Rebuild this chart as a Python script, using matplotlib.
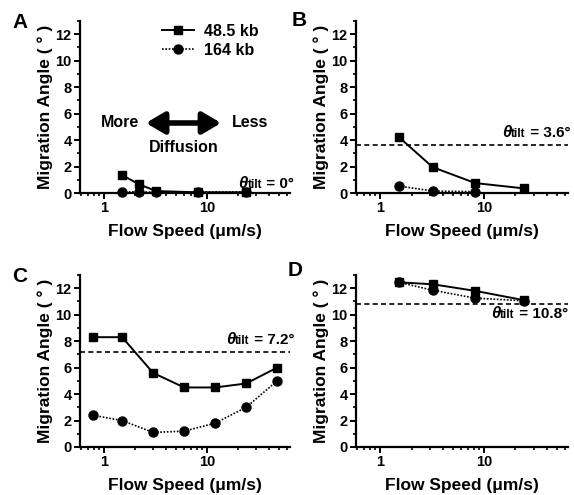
import numpy as np
import matplotlib
matplotlib.use("Agg")
import matplotlib.pyplot as plt
from matplotlib.ticker import LogLocator, NullFormatter, FixedLocator, MultipleLocator
from matplotlib.offsetbox import TextArea, HPacker, AnnotationBbox

plt.rcParams['font.family'] = ['Liberation Sans', 'DejaVu Sans']
plt.rcParams['font.weight'] = 'bold'

# -------------------- data --------------------
# panel A (theta_tilt = 0)
a_x_485 = [1.5, 2.2, 3.2, 8.2, 24]
a_y_485 = [1.35, 0.65, 0.15, 0.05, 0.05]
a_x_164 = [1.5, 2.2, 3.2, 8.2, 24]
a_y_164 = [0.08, 0.1, 0.05, 0.08, 0.08]

# panel B (theta_tilt = 3.6)
b_x_485 = [1.5, 3.2, 8.2, 24]
b_y_485 = [4.25, 1.95, 0.75, 0.35]
b_x_164 = [1.5, 3.2, 8.2]
b_y_164 = [0.53, 0.15, 0.1]

# panel C (theta_tilt = 7.2)
c_x_485 = [0.78, 1.5, 3.0, 6.0, 12, 24, 48]
c_y_485 = [8.3, 8.3, 5.6, 4.5, 4.5, 4.8, 6.0]
c_x_164 = [0.78, 1.5, 3.0, 6.0, 12, 24, 48]
c_y_164 = [2.4, 2.0, 1.1, 1.2, 1.8, 3.0, 5.0]

# panel D (theta_tilt = 10.8)
d_x_485 = [1.5, 3.2, 8.2, 24]
d_y_485 = [12.45, 12.3, 11.8, 11.1]
d_x_164 = [1.5, 3.2, 8.2, 24]
d_y_164 = [12.45, 11.85, 11.25, 11.05]

tilts = [0, 3.6, 7.2, 10.8]
panel_letters = ['A', 'B', 'C', 'D']

# -------------------- figure --------------------
W, H = 574, 495
fig = plt.figure(figsize=(W / 100, H / 100), dpi=100)


def px_axes(left, top, right, bottom):
    return fig.add_axes([left / W, 1 - bottom / H, (right - left) / W, (bottom - top) / H])


axA = px_axes(80, 21, 290, 193)
axB = px_axes(356, 21, 568, 193)
axC = px_axes(80, 275, 290, 447)
axD = px_axes(356, 275, 568, 447)
axes = [axA, axB, axC, axD]

data = [
    (a_x_485, a_y_485, a_x_164, a_y_164),
    (b_x_485, b_y_485, b_x_164, b_y_164),
    (c_x_485, c_y_485, c_x_164, c_y_164),
    (d_x_485, d_y_485, d_x_164, d_y_164),
]

for ax, (x1, y1, x2, y2) in zip(axes, data):
    ax.plot(x2, y2, ls=(0, (1, 1)), lw=1.2, color='k', marker='o', ms=6.5, label='164 kb', clip_on=False, zorder=3)
    ax.plot(x1, y1, ls='-', lw=1.4, color='k', marker='s', ms=6, label='48.5 kb', clip_on=False, zorder=4)
    ax.set_xscale('log')
    ax.set_xlim(0.585, 64)
    ax.set_ylim(0, 13)
    ax.spines['top'].set_visible(False)
    ax.spines['right'].set_visible(False)
    ax.spines['left'].set_linewidth(1.6)
    ax.spines['bottom'].set_linewidth(1.6)
    ax.xaxis.set_major_locator(FixedLocator([1, 10]))
    ax.xaxis.set_major_formatter(matplotlib.ticker.FixedFormatter(['1', '10']))
    ax.xaxis.set_minor_locator(LogLocator(base=10, subs=np.arange(2, 10)))
    ax.xaxis.set_minor_formatter(NullFormatter())
    ax.yaxis.set_major_locator(MultipleLocator(2))
    ax.yaxis.set_minor_locator(MultipleLocator(1))
    ax.tick_params(which='major', direction='out', length=4, width=1.4, labelsize=10.5, pad=2)
    ax.tick_params(which='minor', direction='out', length=2.5, width=1.2)
    ax.set_xlabel('Flow Speed (\u03bcm/s)', fontsize=12.5, fontweight='bold', labelpad=6)
    ax.set_ylabel('Migration Angle ( \u00b0 )', fontsize=12.5, fontweight='bold', labelpad=2)

# dashed tilt lines
for ax, t in zip(axes[1:], tilts[1:]):
    ax.axhline(t, color='k', ls=(0, (3, 2)), lw=1.2, zorder=2)


# theta_tilt labels
def tilt_label(ax, text, xfrac, y):
    parts = [
        TextArea('\u03b8', textprops=dict(fontsize=12, fontstyle='italic', fontweight='bold')),
        TextArea('tilt', textprops=dict(fontsize=8.5, fontweight='bold')),
        TextArea(' = ' + text, textprops=dict(fontsize=11, fontweight='bold')),
    ]
    box = HPacker(children=parts, align='baseline', pad=0, sep=0)
    ab = AnnotationBbox(box, (xfrac, y), xycoords=ax.get_yaxis_transform(),
                        box_alignment=(1, 0.5), frameon=False, pad=0, annotation_clip=False)
    ax.add_artist(ab)


tilt_label(axA, '0\u00b0', 1.02, 0.7)
tilt_label(axB, '3.6\u00b0', 1.01, 4.6)
tilt_label(axC, '7.2\u00b0', 1.02, 8.1)
tilt_label(axD, '10.8\u00b0', 1.0, 10.1)

# panel letters
letter_pos = [(20, 22), (299, 20), (20, 277), (295, 270)]
for (x, y), lab in zip(letter_pos, panel_letters):
    fig.text(x / W, 1 - y / H, lab, fontsize=15, fontweight='bold', ha='center', va='center')

# legend in panel A
handles, labels = axA.get_legend_handles_labels()
axA.legend(handles[::-1], labels[::-1], loc='upper left', bbox_to_anchor=(0.36, 1.02),
           frameon=False, fontsize=11.5, handlelength=2.0, handletextpad=0.6,
           labelspacing=0.25, borderaxespad=0)

# diffusion annotation in panel A
axA.annotate('', xy=(0.314, 0.407), xytext=(0.672, 0.407), xycoords='axes fraction',
             arrowprops=dict(arrowstyle='<|-|>,head_length=1.1,head_width=0.65', lw=4,
                             color='k', shrinkA=0, shrinkB=0))
axA.text(0.19, 0.407, 'More', transform=axA.transAxes, ha='center', va='center', fontsize=11.5)
axA.text(0.81, 0.407, 'Less', transform=axA.transAxes, ha='center', va='center', fontsize=11.5)
axA.text(0.495, 0.267, 'Diffusion', transform=axA.transAxes, ha='center', va='center', fontsize=11.5)

fig.savefig('out.png', dpi=100)
